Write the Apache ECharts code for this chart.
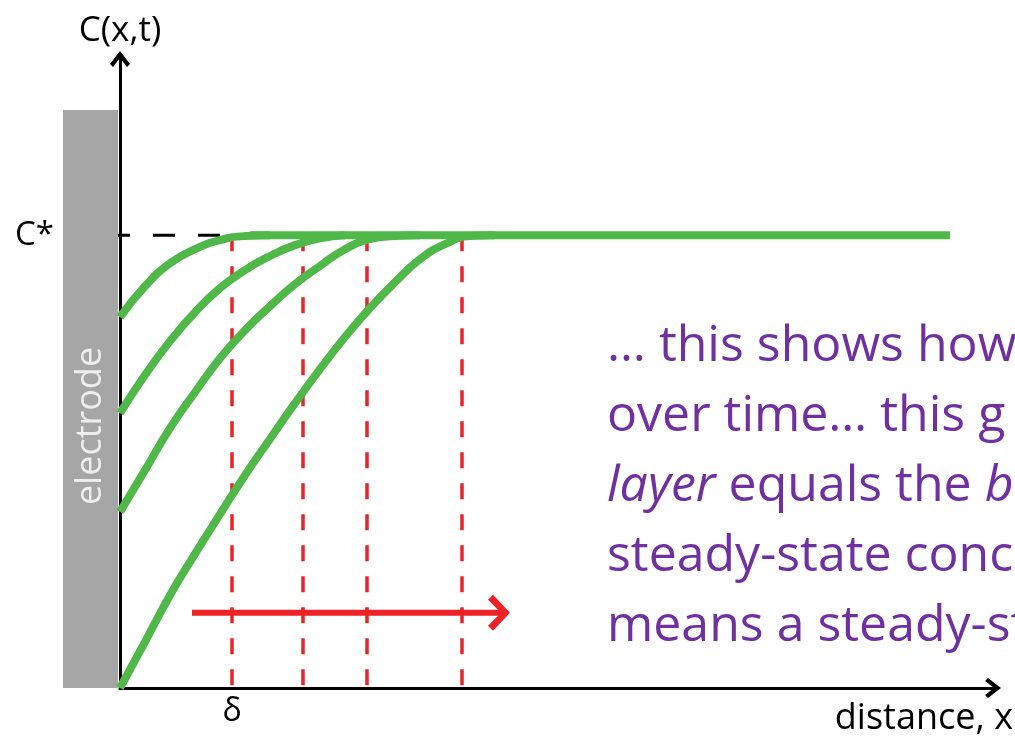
<!DOCTYPE html>
<html>
<head>
<meta charset="utf-8">
<script src="https://cdn.jsdelivr.net/npm/echarts@6/dist/echarts.min.js"></script>
<style>
    html, body { margin: 0; padding: 0; background: #fff; }
    #chart { width: 1015px; height: 737px; }
</style>
</head>
<body>
<div id="chart"></div>
<script>
// concentration profiles, C/C* against distance (arbitrary units, step 0.25)
const distance = [0, 0.25, 0.5, 0.75, 1.0, 1.25, 1.5, 1.75, 2.0, 2.25, 2.5, 2.75, 3.0, 3.25, 3.5, 3.75];
const curve1 = [0.819, 0.887, 0.938, 0.969, 0.989, 0.998, 1];
const curve2 = [0.607, 0.691, 0.766, 0.830, 0.883, 0.923, 0.954, 0.978, 0.993, 1];
const curve3 = [0.389, 0.481, 0.574, 0.653, 0.728, 0.790, 0.843, 0.892, 0.932, 0.969, 0.991, 0.998, 1];
const curve4 = [0, 0.102, 0.205, 0.296, 0.384, 0.470, 0.550, 0.629, 0.704, 0.775, 0.839, 0.896, 0.947, 0.980, 0.998, 1];
const bulkLine = [[1.30, 1], [8.30, 1]];
const bulkDash = [[-0.57, 1], [1.10, 1]];
const deltaX = [1.12, 1.83, 2.47, 3.42];
const arrowLine = [[0.72, 0.166], [3.85, 0.166]];
const cStar = 1;

const textLines = [
    '… this shows how',
    'over time… this g',
    '{i|layer} equals the {i|b}',
    'steady-state conc',
    'means a steady-st'
];

const green = '#4fb848';
const red = '#ec2227';
const chevron = 'path://M0,13 L10,0 L20,13 L17,16 L10,7 L3,16 Z';
const chevronRight = 'path://M0,5 L5,0 L22,18 L5,36 L0,31 L13,18 Z';

const chart = echarts.init(document.getElementById('chart'));

const series = [];
series.push({
    type: 'line', data: bulkDash, clip: false, symbol: 'none', z: 1,
    lineStyle: { color: '#000', width: 3, type: [22, 23] }
});
deltaX.forEach(x => {
    series.push({
        type: 'line', data: [[x, cStar], [x, 0]], symbol: 'none', z: 2,
        lineStyle: { color: red, width: 3.5, type: [16, 15] }
    });
});
[curve1, curve2, curve3, curve4].forEach(c => {
    series.push({
        type: 'line', data: c.map((v, i) => [distance[i], v]), smooth: true, symbol: 'none', z: 3,
        lineStyle: { color: green, width: 8 }
    });
});
series.push({
    type: 'line', data: bulkLine, symbol: 'none', z: 3,
    lineStyle: { color: green, width: 8 }
});
series.push({
    type: 'line', z: 4,
    data: [
        { value: arrowLine[0], symbol: 'none' },
        { value: arrowLine[1], symbol: chevronRight, symbolSize: [22, 36], symbolOffset: [-6, 0] }
    ],
    showAllSymbol: true,
    itemStyle: { color: red },
    lineStyle: { color: red, width: 6 }
});

chart.setOption({
    backgroundColor: '#fff',
    animation: false,
    grid: { left: 120, top: 59, width: 873, height: 629 },
    xAxis: {
        type: 'value', min: 0, max: 8.73,
        axisLine: { lineStyle: { color: '#000', width: 3 }, symbol: ['none', chevron], symbolSize: [20, 16] },
        axisTick: { show: false },
        splitLine: { show: false },
        axisLabel: {
            customValues: [deltaX[0]], formatter: () => 'δ',
            color: '#000', fontSize: 32, fontFamily: 'Open Sans', margin: 8
        }
    },
    yAxis: {
        type: 'value', min: 0, max: 1.389,
        name: 'C(x,t)', nameLocation: 'end', nameGap: 10,
        nameTextStyle: { color: '#000', fontSize: 35, fontFamily: 'Open Sans', align: 'center' },
        axisLine: { lineStyle: { color: '#000', width: 3 }, symbol: ['none', chevron], symbolSize: [22, 16] },
        axisTick: { show: false },
        splitLine: { show: false },
        axisLabel: {
            customValues: [cStar], formatter: () => 'C*',
            color: '#000', fontSize: 33, fontFamily: 'Open Sans', margin: 66
        }
    },
    graphic: [
        { type: 'rect', z: -1, shape: { x: 63, y: 110, width: 55, height: 578 }, style: { fill: '#a6a6a6' } },
        {
            type: 'text', x: 91, y: 426, rotation: Math.PI / 2,
            style: { text: 'electrode', fill: '#eeeeee', fontSize: 36, fontFamily: 'Open Sans', align: 'center', verticalAlign: 'middle' }
        },
        {
            type: 'text', x: 1013, y: 719,
            style: { text: 'distance, x', fill: '#000', fontSize: 36, fontFamily: 'Open Sans', align: 'right', verticalAlign: 'middle' }
        }
    ].concat(textLines.map((t, i) => ({
        type: 'text', x: 607, y: 347 + i * 70,
        style: {
            text: t, fill: '#7030a0', fontSize: 50, fontFamily: 'Open Sans',
            align: 'left', verticalAlign: 'middle',
            rich: { i: { fontStyle: 'italic', fontSize: 50, fontFamily: 'Open Sans', fill: '#7030a0' } }
        }
    }))),
    series: series
});
</script>
</body>
</html>
